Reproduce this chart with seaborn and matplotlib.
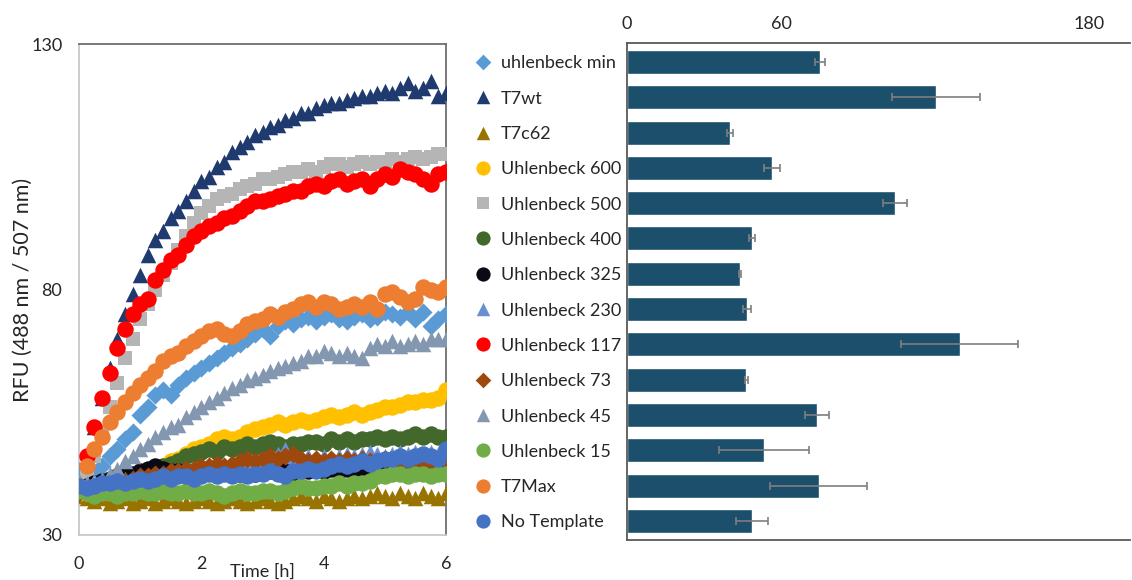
import numpy as np
import pandas as pd
import matplotlib
matplotlib.use("Agg")
import matplotlib.pyplot as plt
import matplotlib.transforms as mtransforms
import seaborn as sns

# time axis: one reading every 7.5 min for 6 h
time_h = np.arange(49) * 0.125

series_names = ["uhlenbeck min", "T7wt", "T7c62", "Uhlenbeck 600", "Uhlenbeck 500",
                "Uhlenbeck 400", "Uhlenbeck 325", "Uhlenbeck 230", "Uhlenbeck 117",
                "Uhlenbeck 73", "Uhlenbeck 45", "Uhlenbeck 15", "T7Max", "No Template"]

uhl_min = [43, 42, 42.5, 44, 46, 47.5, 49.5, 51, 54.5, 56,
           58.5, 59.5, 58.5, 60.5, 62, 63, 64, 65, 66, 67,
           68, 69, 70, 71, 72, 70.5, 72.5, 73.5, 73, 74,
           74.5, 73.5, 74.5, 75, 74, 73.5, 74.5, 75, 74, 74.5,
           75.5, 75, 74.5, 75.5, 74, 75.5, 72.5, 74, 75]
t7wt = [40, 45, 52, 58, 64, 70, 75, 79, 83, 87,
        90, 92, 94.5, 96, 98, 100, 102, 103, 105, 106,
        108, 109, 110, 111.5, 112, 113, 113.5, 114.5, 115, 116,
        116, 117, 117.5, 118, 118, 118.5, 119, 119.5, 119.5, 120,
        120.5, 120, 121, 122, 120.5, 121, 122.5, 119.5, 120]
t7c62 = [38, 37.5, 37, 37.5, 36.5, 37, 37.5, 36.5, 37, 37.5,
         36.5, 37, 37.5, 37, 36.5, 37, 37.5, 37, 36.5, 37,
         37.5, 37, 36.5, 37, 37.5, 37, 36.5, 37, 37.5, 38,
         37.5, 37, 38, 37.5, 37, 37.5, 38, 37.5, 38, 38.5,
         38, 37.5, 38.5, 38, 37.5, 38.5, 38, 37.5, 38.5]
uhl_600 = [38.5, 38.5, 39, 39, 39.5, 40, 40.5, 41, 42, 42.5,
           43.5, 44, 45, 45.5, 46.5, 47.5, 48, 48.5, 49.5, 50,
           49.5, 50, 51, 51.5, 52, 52.5, 53, 52.5, 53, 53.5,
           53, 53.5, 54, 54.5, 54, 54.5, 55, 54.5, 55, 55.5,
           56, 56, 56.5, 57, 57, 57.5, 57.5, 58, 59.5]
uhl_500 = [40, 42, 46, 51, 56, 61, 66, 70, 74, 77,
           80, 83, 85.5, 88, 91, 93.5, 95.5, 97, 98.5, 99,
           99.5, 100.5, 101, 101.5, 102.5, 102.5, 103, 103.5, 104, 104,
           104.5, 104, 105, 105.5, 105.5, 105, 105.5, 106, 105.5, 106,
           106, 106.5, 106, 106.5, 107, 106.5, 107, 107.5, 107.5]
uhl_400 = [39, 39, 39.5, 39.5, 40, 40.5, 41, 41.5, 42, 42.5,
           43, 44, 44.5, 45, 46, 46.5, 47, 47.5, 47, 48,
           47.5, 48, 48.5, 48, 48.5, 49, 48.5, 48, 48.5, 48.5,
           49, 49, 48.5, 49.5, 49, 49.5, 49, 49.5, 49.5, 50,
           49.5, 50, 49.5, 50, 50.5, 50, 50.5, 50, 50]
uhl_325 = [39.5, 40, 40.5, 41, 41.5, 42, 42, 42.5, 43, 43.5,
           44, 43.5, 43, 43, 42.5, 43, 42.5, 43, 42.5, 43,
           43, 42.5, 43, 42.5, 43, 43, 43.5, 43, 42.5, 43,
           43, 43.5, 43, 43.5, 43, 43.5, 43.5, 43, 43.5, 44,
           43.5, 43.5, 44, 43.5, 44, 44, 43.5, 44, 44.5]
uhl_230 = [40, 40, 40.5, 40.5, 41, 41, 41.5, 41.5, 41.5, 42,
           42, 42.5, 42.5, 43, 43, 43, 43.5, 43.5, 44, 44,
           44, 44.5, 44.5, 45, 45, 46, 46.5, 47.5, 46, 45.5,
           46, 45.5, 46, 45.5, 46, 46.5, 46, 46.5, 47, 46.5,
           46, 46.5, 47, 46.5, 47, 46.5, 47, 46.5, 46.5]
uhl_117 = [40, 46, 52, 58, 63, 68, 72, 75, 77, 78,
           82, 84, 86, 87, 89, 91, 92, 93, 93.5, 94.5,
           95, 96, 97, 98, 98, 98.5, 99, 99.5, 100, 100,
           101, 101.5, 101, 102, 102.5, 101.5, 102, 102.5, 101, 102.5,
           103.5, 103, 104.5, 104, 103.5, 102.5, 101.5, 103.5, 104]
uhl_73 = [38.5, 39, 39.5, 40, 40, 40.5, 41, 41.5, 42, 42,
          42.5, 42.5, 43, 43, 43.5, 43.5, 44, 44, 44.5, 44,
          44.5, 45, 45.5, 45, 45.5, 46, 45.5, 46, 46.5, 45.5,
          45, 45.5, 45, 45.5, 45, 45.5, 45, 45.5, 45, 45,
          45.5, 45, 44.5, 45, 45, 44.5, 45, 45.5, 45]
uhl_45 = [41, 40.5, 41, 41.5, 42.5, 43.5, 45, 46, 47.5, 48.5,
          50, 51, 52, 52.5, 54, 55, 56, 57, 58, 59,
          60, 60.5, 61.5, 62, 62.5, 63.5, 64, 64.5, 65, 65.5,
          66.5, 66.5, 67.5, 67, 66.5, 67, 66.5, 66, 68, 69,
          68.5, 69.5, 68.5, 69, 69.5, 69, 70, 70, 70]
uhl_15 = [39, 38.5, 38, 38.5, 38.5, 38, 38.5, 38.5, 39, 38.5,
          38.5, 39, 38.5, 38.5, 39, 38.5, 38.5, 39, 38.5, 38,
          38.5, 39, 38.5, 38.5, 39, 39, 38.5, 39, 39.5, 40,
          39.5, 39.5, 40, 40, 40.5, 40, 40.5, 40.5, 41, 42,
          42, 42.5, 42.5, 42, 42.5, 42.5, 42, 42.5, 42.5]
t7max = [40, 44, 47.5, 50, 53, 55, 57, 59, 60.5, 62,
         63.5, 65.5, 66.5, 67, 68.5, 69.5, 70.5, 71.5, 72, 71,
         70.5, 71.5, 73, 73.5, 74, 75, 74.5, 75.5, 76, 77,
         77.5, 76.5, 77.5, 77, 76, 76.5, 77, 76.5, 77.5, 76,
         79, 79.5, 78.5, 77.5, 78, 80.5, 80, 79.5, 80.5]
no_template = [40, 39.5, 40, 40.5, 40.5, 41, 40.5, 41, 41.5, 41,
               41.5, 42, 41.5, 42, 42, 41.5, 42, 42.5, 42, 42.5,
               42, 42.5, 42, 42.5, 42.5, 43, 42.5, 42, 43, 43,
               43.5, 43, 43.5, 44, 44.5, 44, 44.5, 45, 44.5, 45,
               45.5, 45.5, 46, 45.5, 46, 46.5, 46, 45.5, 47.5]

rfu_values = [uhl_min, t7wt, t7c62, uhl_600, uhl_500, uhl_400, uhl_325,
              uhl_230, uhl_117, uhl_73, uhl_45, uhl_15, t7max, no_template]

# right panel: bar values and error
bar_values = [75.2, 120.4, 40.1, 56.5, 104.4, 48.7, 44.0, 46.8, 129.7, 46.4, 74.0, 53.4, 74.8, 48.7]
bar_errors = [2.0, 17.3, 1.2, 3.3, 4.7, 1.2, 0.4, 1.6, 22.8, 0.6, 4.7, 17.5, 18.9, 6.2]

colors = ["#5b9bd5", "#1f3a6e", "#997300", "#ffc000", "#b5b5b5", "#43682b", "#0a0a14",
          "#6a8fd1", "#ff0000", "#9e480e", "#8497b0", "#70ad47", "#ed7d31", "#4472c4"]
markers = ["D", "^", "^", "o", "s", "o", "o", "^", "o", "D", "^", "o", "o", "o"]
sizes = {"D": 85, "^": 125, "o": 140, "s": 110}

sns.set_style("white")
plt.rcParams["font.family"] = ["Lato", "DejaVu Sans"]
plt.rcParams["font.size"] = 13

fig = plt.figure(figsize=(11.32, 5.8), dpi=100)
ax1 = fig.add_axes([0.0698, 0.0776, 0.3242, 0.8465])
ax2 = fig.add_axes([0.5539, 0.069, 0.4443, 0.857])

# left panel: kinetics
for name, vals, col, mk in zip(series_names, rfu_values, colors, markers):
    sns.scatterplot(x=time_h, y=vals, ax=ax1, color=col, marker=mk,
                    s=sizes[mk], linewidth=0, legend=False, zorder=3)

ax1.set_xlim(0, 6)
ax1.set_ylim(30, 130)
ax1.set_xticks([0, 2, 4, 6])
ax1.set_yticks([30, 80, 130])
ax1.tick_params(axis="x", length=0, pad=15, labelsize=13, colors="#262626")
ax1.tick_params(axis="y", length=0, pad=12, labelsize=13, colors="#262626")
for side in ["left", "bottom"]:
    ax1.spines[side].set_color("#c8c8c8")
    ax1.spines[side].set_linewidth(1.3)
for side in ["top", "right"]:
    ax1.spines[side].set_color("#6e6e6e")
    ax1.spines[side].set_linewidth(1.3)
ax1.set_xlabel("Time [h]", fontsize=13, color="#262626")
ax1.xaxis.set_label_coords(0.5, -0.058)
ax1.set_ylabel("RFU (488 nm / 507 nm)", fontsize=15.5, color="#262626")
ax1.yaxis.set_label_coords(-0.125, 0.5)

# right panel: bars
positions = list(range(len(series_names)))
sns.barplot(x=bar_values, y=series_names, orient="h", color="#1b4f6b",
            width=0.68, ax=ax2, saturation=1, errorbar=None)
ax2.errorbar(bar_values, positions, xerr=bar_errors, fmt="none",
             ecolor="#7f7f7f", elinewidth=1.2, capsize=3, capthick=1.2, zorder=4)

ax2.set_xlim(0, 196)
ax2.set_ylim(len(series_names) - 0.46, -0.54)
ax2.xaxis.tick_top()
ax2.set_xticks([0, 60, 180])
ax2.tick_params(axis="x", length=0, pad=8, labelsize=13, colors="#262626")
ax2.set_yticks(positions)
ax2.set_yticklabels(series_names, ha="left")
ax2.tick_params(axis="y", length=0, pad=91, labelsize=13, colors="#262626")
ax2.set_xlabel("")
ax2.set_ylabel("")
for side in ["left", "top", "bottom"]:
    ax2.spines[side].set_color("#595959")
    ax2.spines[side].set_linewidth(1.3)
ax2.spines["right"].set_visible(False)

# legend markers next to the row labels
trans = mtransforms.blended_transform_factory(ax2.transAxes, ax2.transData)
for pos, col, mk in zip(positions, colors, markers):
    ax2.scatter([-0.287], [pos], transform=trans, color=col, marker=mk,
                s=sizes[mk] * 0.75, linewidths=0, clip_on=False, zorder=5)

fig.savefig("out.png", dpi=100)
